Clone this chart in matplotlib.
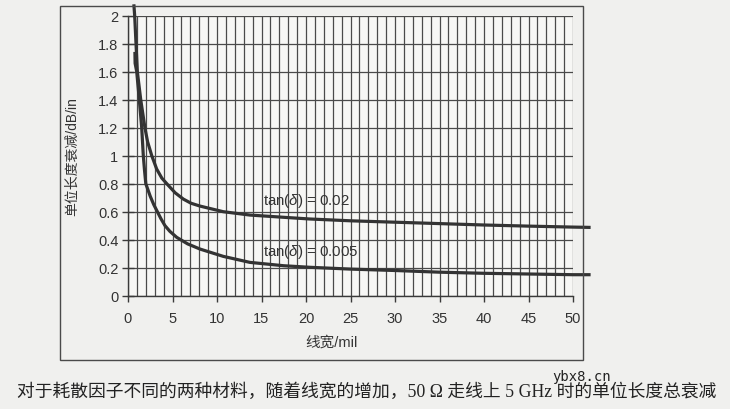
import matplotlib
matplotlib.use("Agg")
import matplotlib.pyplot as plt
from matplotlib.patches import Rectangle
from matplotlib.ticker import MultipleLocator

plt.rcParams['mathtext.fontset'] = 'custom'
plt.rcParams['mathtext.rm'] = 'Liberation Sans'
plt.rcParams['mathtext.it'] = 'Liberation Sans:italic'

# ---- data ----
x_high = [0.67, 0.75, 1.05, 1.43, 1.9, 2.2, 2.67, 3.22, 3.8, 4.5, 5.3, 6.22, 7.1, 8.1, 10.7,
          13.7, 17.5, 20.4, 25, 30, 35, 40, 45, 50, 51.8]
y_high = [2.07, 2.0, 1.6, 1.4, 1.2, 1.1, 1.0, 0.905, 0.84, 0.79, 0.735, 0.69, 0.66, 0.64, 0.60,
          0.576, 0.56, 0.548, 0.535, 0.525, 0.515, 0.505, 0.497, 0.49, 0.488]

x_low = [0.78, 0.8, 0.98, 1.27, 1.54, 1.72, 1.85, 2.0, 2.5, 2.9, 3.3, 3.7, 4.16, 4.7, 5.47,
         6.7, 8.1, 10.7, 13.7, 17.5, 20.4, 25, 30, 35, 40, 45, 50, 51.8]
y_low = [1.73, 1.66, 1.6, 1.4, 1.2, 1.0, 0.9, 0.8, 0.71, 0.65, 0.6, 0.55, 0.5, 0.46, 0.417,
         0.37, 0.333, 0.281, 0.238, 0.214, 0.203, 0.19, 0.18, 0.168, 0.16, 0.155, 0.15, 0.15]

series_labels = [r'tan($\delta$) = 0.02', r'tan($\delta$) = 0.005']
label_pos = [(15.2, 0.686), (15.2, 0.32)]

x_ticks = list(range(0, 51, 5))
y_ticks = [0, 0.2, 0.4, 0.6, 0.8, 1.0, 1.2, 1.4, 1.6, 1.8, 2.0]
y_ticklabels = ['0', '0.2', '0.4', '0.6', '0.8', '1', '1.2', '1.4', '1.6', '1.8', '2']

x_label = '线宽/mil'
y_label = '单位长度衰减/dB/in'
caption = '对于耗散因子不同的两种材料，随着线宽的增加，50 Ω 走线上 5 GHz 时的单位长度总衰减'
watermark = 'ybx8.cn'

# ---- figure ----
W, H = 730, 410
fig = plt.figure(figsize=(7.3, 4.1), dpi=100, facecolor='#f0f0ee')
ax = fig.add_axes([128 / W, 1 - 296.7 / H, 445 / W, 280 / H])
ax.set_facecolor('#f7f7f5')

ax.set_xlim(0, 50)
ax.set_ylim(0, 2)
ax.set_xticks(x_ticks)
ax.xaxis.set_minor_locator(MultipleLocator(1))
ax.set_yticks(y_ticks)
ax.set_yticklabels(y_ticklabels)

gcol = '#4a4a4a'
ax.grid(True, which='both', axis='x', color=gcol, lw=0.9)
ax.grid(True, which='major', axis='y', color=gcol, lw=0.9)
ax.set_axisbelow(True)
for s in ['top', 'right']:
    ax.spines[s].set_visible(False)
for s in ['left', 'bottom']:
    ax.spines[s].set_color('#3a3a3a')
    ax.spines[s].set_linewidth(1.0)

ax.tick_params(axis='y', direction='inout', length=8, width=1, color='#3a3a3a',
               pad=3, labelcolor='#333333')
ax.tick_params(axis='x', which='major', direction='out', length=4, width=1, color='#3a3a3a',
               pad=7, labelcolor='#333333')
ax.tick_params(axis='x', which='minor', length=0)
for lab in ax.get_xticklabels() + ax.get_yticklabels():
    lab.set_fontfamily('Liberation Sans')
    lab.set_fontsize(10.5)

ax.plot(x_high, y_high, color='#333333', lw=2.3, clip_on=False, solid_joinstyle='round')
ax.plot(x_low, y_low, color='#333333', lw=2.3, clip_on=False, solid_joinstyle='round')

for lbl, (lx, ly) in zip(series_labels, label_pos):
    ax.text(lx, ly, lbl, ha='left', va='center', fontsize=10.8, family='Liberation Sans',
            color='#333333')

# axis titles
fig.text(72 / W, 1 - 157 / H, y_label, rotation=90, ha='center', va='center',
         fontsize=10, family=['Liberation Sans', 'Noto Sans CJK SC'], color='#333333')
fig.text(331 / W, 1 - 343 / H, x_label, ha='center', va='center',
         fontsize=10.5, family=['Liberation Sans', 'Noto Sans CJK SC'], color='#333333')

# outer chart frame
fig.patches.append(Rectangle((60 / W, 1 - 361 / H), 523 / W, (361 - 6.7) / H,
                             transform=fig.transFigure, fill=False,
                             edgecolor='#4a4a4a', lw=1.0))

# caption and watermark
fig.text(367 / W, 1 - 392 / H, caption, ha='center', va='center', fontsize=12.8,
         family=['Liberation Serif', 'Noto Sans CJK SC'], color='#222222')
fig.text(582 / W, 1 - 377 / H, watermark, ha='center', va='center', fontsize=10,
         family='DejaVu Sans Mono', color='#222222')

fig.savefig('out.png', dpi=100, facecolor=fig.get_facecolor())
